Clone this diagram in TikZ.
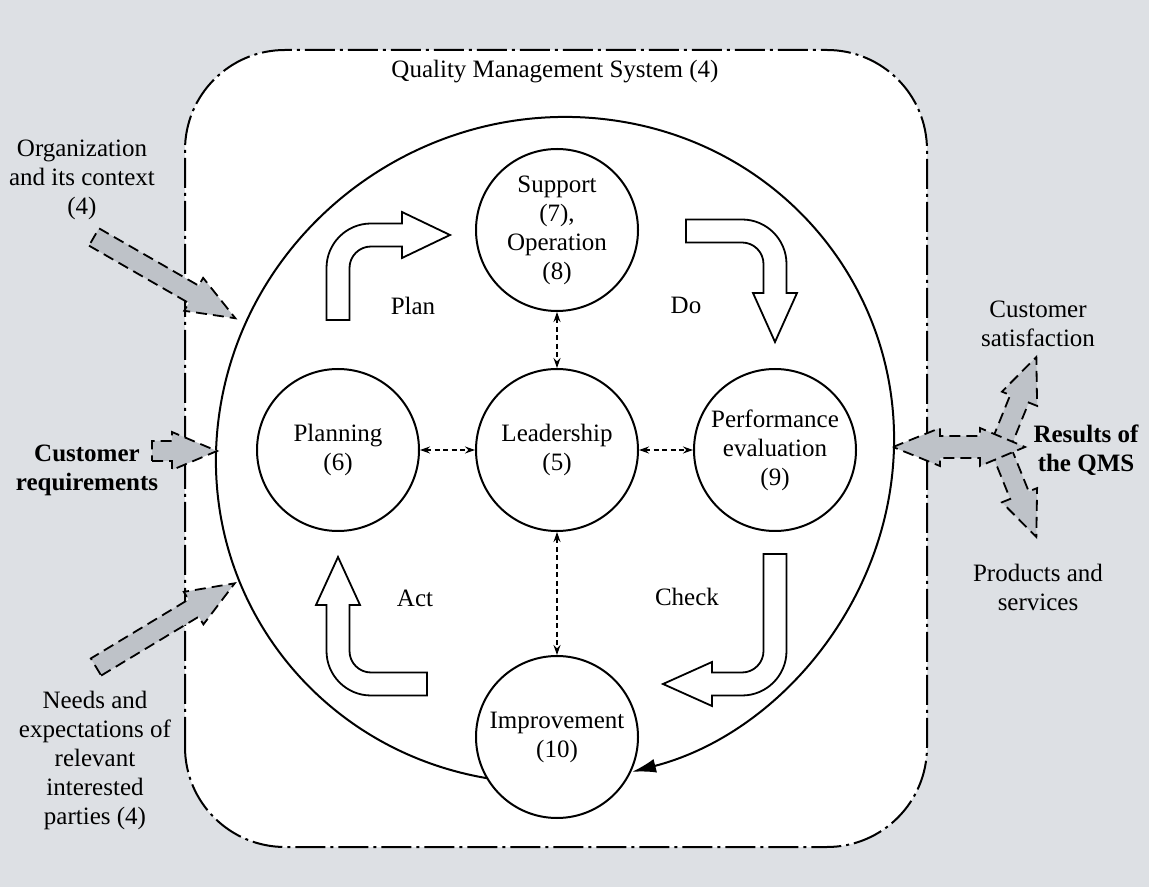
\documentclass[tikz,border=0pt]{standalone}
\usepackage{fontspec}
\setmainfont{Liberation Serif}
\usetikzlibrary{arrows.meta}
\definecolor{bggray}{RGB}{221,224,228}
\definecolor{arrowgray}{RGB}{190,194,200}
\newcommand{\grayblockarrow}[5]{%
  \begin{scope}[shift={(#1,#2)},rotate=#3]
    \draw[grayarrow] (0,-10) -- ({#4-#5},-10) -- ({#4-#5},-19) -- (#4,0) -- ({#4-#5},19) -- ({#4-#5},10) -- (0,10) -- cycle;
  \end{scope}}
\begin{document}
\begin{tikzpicture}[x=1pt,y=1pt,
  txt/.style={font=\fontsize{25}{29}\selectfont, align=center, inner sep=0pt},
  txtb/.style={font=\fontsize{25}{29}\selectfont\bfseries, align=center, inner sep=0pt},
  stage/.style={circle, draw, line width=2pt, fill=white, minimum size=162pt, inner sep=0pt,
                font=\fontsize{25}{29}\selectfont, align=center},
  flow/.style={draw, line width=1.8pt, fill=white, line join=miter},
  grayarrow/.style={draw, fill=arrowgray, line width=1.8pt, dash pattern=on 11pt off 6pt, line join=miter},
  link/.style={line width=1.2pt, dash pattern=on 5pt off 3.5pt,
               {Stealth[length=10pt,width=7pt]}-{Stealth[length=10pt,width=7pt]}},
  qms/.style={line width=2pt, dash pattern=on 30pt off 5pt on 3pt off 5pt}]
\useasboundingbox (0,0) rectangle (1149,887);
\fill[bggray] (0,0) rectangle (1149,887);
% outer QMS frame
\draw[qms, fill=white, rounded corners=100pt] (185,40) rectangle (927,837);
\node[txt] (title) at (555,815) {Quality Management System (4)};
% PDCA cycle
\draw[line width=2pt, -{Latex[length=24pt,width=14pt]}, rotate around={30:(555,437)}]
  (555,437) ++(232:342 and 330) arc[start angle=232, end angle=-106, x radius=342, y radius=330];
% stages
\node[stage] (support) at (557,657) {Support\\(7),\\Operation\\(8)};
\node[stage] (plan) at (338,437) {Planning\\(6)};
\node[stage] (lead) at (557,437) {Leadership\\(5)};
\node[stage] (perf) at (775,437) {Performance\\evaluation\\(9)};
\node[stage] (improve) at (557,150) {Improvement\\(10)};
\draw[link] (plan) -- (lead);
\draw[link] (lead) -- (perf);
\draw[link] (support) -- (lead);
\draw[link] (lead) -- (improve);
% flow arrows
\draw[flow] (326.5,567) -- (326.5,619) arc[start angle=180,end angle=90,radius=44.5] -- (402,663.5) -- (402,675) -- (450,652) -- (402,629) -- (402,640.5) -- (371,640.5) arc[start angle=90,end angle=180,radius=21.5] -- (349.5,567) -- cycle;
\draw[flow] (686,667.5) -- (742,667.5) arc[start angle=90,end angle=0,radius=44.5] -- (786.5,594) -- (797,594) -- (775,545) -- (753,594) -- (763.5,594) -- (763.5,623) arc[start angle=0,end angle=90,radius=21.5] -- (686,644.5) -- cycle;
\draw[flow] (786.5,333) -- (786.5,236) arc[start angle=0,end angle=-90,radius=44.5] -- (712,191.5) -- (712,181) -- (663,203) -- (712,225) -- (712,214.5) -- (742,214.5) arc[start angle=-90,end angle=0,radius=21.5] -- (763.5,333) -- cycle;
\draw[flow] (427,191.5) -- (371,191.5) arc[start angle=-90,end angle=-180,radius=44.5] -- (326.5,282) -- (316,282) -- (338,330) -- (360,282) -- (349.5,282) -- (349.5,236) arc[start angle=180,end angle=270,radius=21.5] -- (427,214.5) -- cycle;
\node[txt] (plantxt) at (413,581) {Plan};
\node[txt] (dotxt) at (686,582) {Do};
\node[txt] (acttxt) at (415,289) {Act};
\node[txt] (checktxt) at (687,290) {Check};
% inputs
\grayblockarrow{94}{650}{-29.9}{163}{48}
\grayblockarrow{152}{436}{0}{65}{45}
\grayblockarrow{96}{220}{31.1}{162}{48}
\node[txt] (org) at (82,707) {Organization\\and its context\\(4)};
\node[txtb] (custreq) at (87,417) {Customer\\requirements};
\node[txt] (needs) at (95,127) {Needs and\\expectations of\\relevant\\interested\\parties (4)};
% outputs
\grayblockarrow{1000}{440}{68}{97}{45}
\grayblockarrow{1000}{440}{-68}{97}{45}
\draw[grayarrow] (893,440) -- (940,459) -- (940,451) -- (980,451) -- (980,459) -- (1025,440) -- (980,421) -- (980,429) -- (940,429) -- (940,421) -- cycle;
\node[txt] (custsat) at (1038,563) {Customer\\satisfaction};
\node[txtb] (results) at (1086,437) {Results of\\the QMS};
\node[txt] (products) at (1038,300) {Products and\\services};
\end{tikzpicture}
\end{document}
